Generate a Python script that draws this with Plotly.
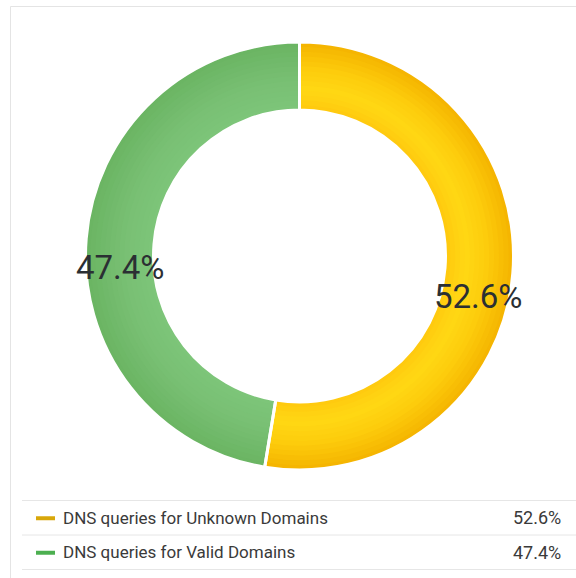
import plotly.graph_objects as go
import math

# ---------------- data ----------------
categories = ["DNS queries for Unknown Domains", "DNS queries for Valid Domains"]
values = [52.6, 47.4]
label_texts = ["52.6%", "47.4%"]

# ---------------- style ----------------
W, H = 576, 578
CX, CY = 299.5, 256.0          # donut centre (px)
R_OUT, R_IN = 214.0, 146.0     # radii (px)
N_RINGS = 14

# radial gradient stops (t: 0 = inner edge, 1 = outer edge)
yellow_stops = [(0.0, (255, 200, 14)), (0.3, (255, 216, 20)), (0.6, (253, 204, 12)), (1.0, (244, 179, 0))]
green_stops = [(0.0, (125, 197, 121)), (0.4, (121, 192, 116)), (1.0, (106, 180, 98))]
legend_colors = ["#d8a70a", "#4caf50"]
text_color = "#2b2f33"
legend_text_color = "#3a3a3a"
sep_color = "#e6e6e6"
FONT = "Roboto, 'Noto Sans', sans-serif"


def px(x):
    return x / W


def py(y):
    return 1 - y / H


def interp(stops, t):
    for (t0, c0), (t1, c1) in zip(stops[:-1], stops[1:]):
        if t0 <= t <= t1:
            f = (t - t0) / (t1 - t0) if t1 > t0 else 0
            c = [round(a + (b - a) * f) for a, b in zip(c0, c1)]
            return "rgb(%d,%d,%d)" % tuple(c)
    c = stops[-1][1]
    return "rgb(%d,%d,%d)" % c


def domain_for(r):
    return dict(x=[px(CX - r), px(CX + r)], y=[py(CY + r), py(CY - r)])


fig = go.Figure()

# concentric rings to emulate radial gradient (outer first, inner ones on top)
for k in range(N_RINGS):
    r_k = R_OUT - k * (R_OUT - R_IN) / N_RINGS
    t = 1 - (k + 0.5) / N_RINGS
    fig.add_trace(go.Pie(
        labels=categories, values=values, sort=False, direction="clockwise", rotation=0,
        hole=R_IN / r_k, domain=domain_for(r_k),
        marker=dict(colors=[interp(yellow_stops, t), interp(green_stops, t)], line=dict(width=0)),
        textinfo="none", hoverinfo="skip", showlegend=False,
    ))

# white separators between slices
fig.add_trace(go.Pie(
    labels=categories, values=values, sort=False, direction="clockwise", rotation=0,
    hole=R_IN / R_OUT, domain=domain_for(R_OUT),
    marker=dict(colors=["rgba(0,0,0,0)", "rgba(0,0,0,0)"], line=dict(color="white", width=3)),
    textinfo="none", hoverinfo="label+percent", showlegend=False,
))

shapes = []
annotations = []

# slice labels at the ring's mid radius / mid angle
total = sum(values)
cum = 0.0
r_mid = (R_OUT + R_IN) / 2
for v, txt in zip(values, label_texts):
    mid = (cum + v / 2) / total * 2 * math.pi
    cum += v
    x = CX + r_mid * math.sin(mid)
    y = CY - r_mid * math.cos(mid)
    annotations.append(dict(
        x=px(x), y=py(y), xref="paper", yref="paper", text=txt, showarrow=False,
        xanchor="center", yanchor="middle", yshift=-26,
        font=dict(family=FONT, size=33, color=text_color),
    ))

# outer frame
shapes.append(dict(type="rect", xref="paper", yref="paper",
                   x0=px(10.5), x1=px(W + 20), y0=py(H + 20), y1=py(6.5),
                   line=dict(color="#e4e4e4", width=1), fillcolor="rgba(0,0,0,0)", layer="below"))

# legend table
ROW_TOP = 500.5
ROW_H = 34.5
shapes.append(dict(type="line", xref="paper", yref="paper", x0=px(22), x1=px(W + 5),
                   y0=py(ROW_TOP), y1=py(ROW_TOP), line=dict(color=sep_color, width=1)))
for i, (cat, v) in enumerate(zip(categories, values)):
    yc = ROW_TOP + ROW_H * (i + 0.5)
    yb = ROW_TOP + ROW_H * (i + 1)
    shapes.append(dict(type="line", xref="paper", yref="paper", x0=px(22), x1=px(W + 5),
                       y0=py(yb), y1=py(yb), line=dict(color=sep_color, width=1)))
    shapes.append(dict(type="line", xref="paper", yref="paper", x0=px(36), x1=px(55),
                       y0=py(yc + 0.5), y1=py(yc + 0.5), line=dict(color=legend_colors[i], width=4)))
    annotations.append(dict(x=px(61), y=py(yc), xref="paper", yref="paper", text=cat,
                            showarrow=False, xanchor="left", yanchor="middle",
                            font=dict(family=FONT, size=17, color=legend_text_color)))
    annotations.append(dict(x=px(563), y=py(yc), xref="paper", yref="paper",
                            text="%.1f%%" % (v / total * 100),
                            showarrow=False, xanchor="right", yanchor="middle",
                            font=dict(family=FONT, size=18, color=legend_text_color)))

fig.update_layout(
    width=W, height=H, margin=dict(l=0, r=0, t=0, b=0),
    paper_bgcolor="white", plot_bgcolor="white",
    shapes=shapes, annotations=annotations, showlegend=False,
    font=dict(family=FONT),
)

fig.write_html("out.html", config={"displayModeBar": False},
               post_script="document.body.style.margin='0';document.body.style.overflow='hidden';")
